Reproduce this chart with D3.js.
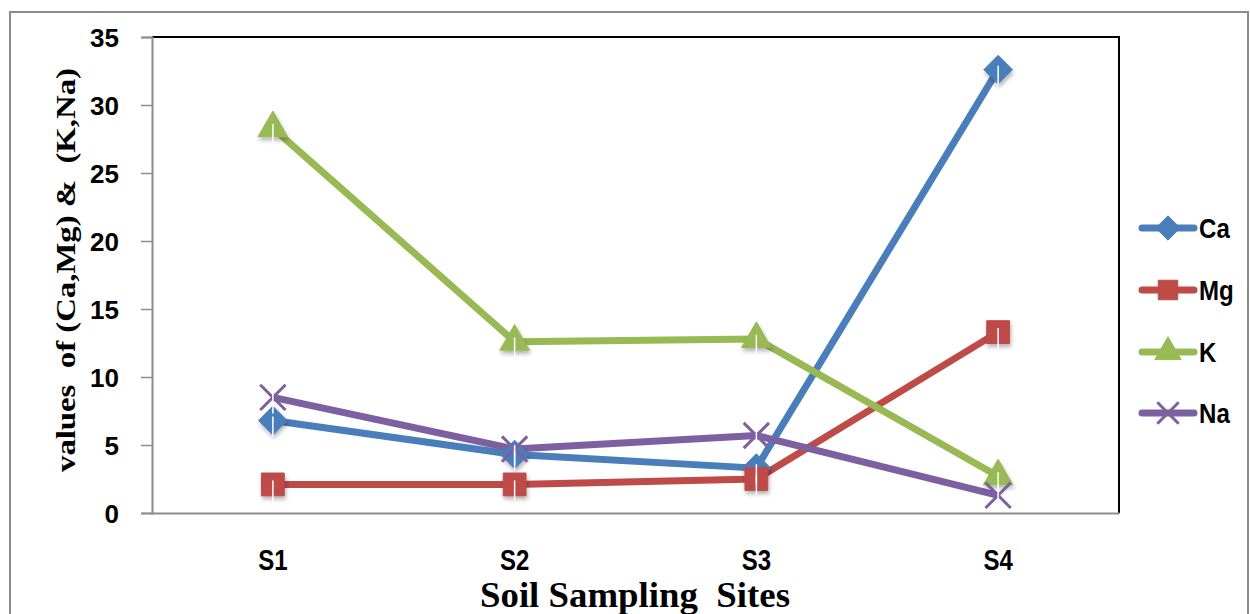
<!DOCTYPE html>
<html><head><meta charset="utf-8">
<script src="https://cdn.jsdelivr.net/npm/d3@7/dist/d3.min.js"></script>
<style>body{margin:0;background:#fff}</style>
</head><body>
<svg id="c" width="1250" height="614"></svg>
<script>
const categories = ["S1","S2","S3","S4"];
const seriesNames = ["Ca","Mg","K","Na"];
const caValues = [6.8, 4.3, 3.3, 32.6];
const mgValues = [2.1, 2.1, 2.5, 13.3];
const kValues  = [28.3, 12.6, 12.8, 2.7];
const naValues = [8.5, 4.7, 5.7, 1.3];
const yTicks = [0,5,10,15,20,25,30,35];
const colors = {Ca:"#4a7ebb", Mg:"#be4b48", K:"#98b954", Na:"#7d60a0"};
const symbols = {Ca:d3.symbolDiamond2, Mg:d3.symbolSquare, K:d3.symbolTriangle, Na:d3.symbolX};
const series = [
  {name:"Ca", values:caValues},
  {name:"Mg", values:mgValues},
  {name:"K", values:kValues},
  {name:"Na", values:naValues}
];

const svg = d3.select("#c");
const L=152, T=37, R=1119, B=513;
const sans = "'Liberation Sans',Arial,sans-serif";
const serif = "'Liberation Serif','Times New Roman',serif";
const defs = svg.append("defs");
const f = defs.append("filter").attr("id","sh").attr("x","-50%").attr("y","-50%").attr("width","200%").attr("height","200%");
f.append("feDropShadow").attr("dx",1).attr("dy",3).attr("stdDeviation",2).attr("flood-color","#000").attr("flood-opacity",0.3);

// outer border
svg.append("rect").attr("x",10).attr("y",12).attr("width",1238).attr("height",640)
  .attr("fill","none").attr("stroke","#8c8c8c").attr("stroke-width",2);

const x = d3.scaleBand().domain(categories).range([L,R]);
const y = d3.scaleLinear().domain([0,35]).range([B,T]);

// plot frame top/right black
svg.append("path").attr("d",`M${L},${T}H${R}V${B}`).attr("fill","none").attr("stroke","#000").attr("stroke-width",2);

// y axis
const ya = svg.append("g").attr("transform",`translate(${L},0)`)
  .call(d3.axisLeft(y).tickValues(yTicks).tickSize(11).tickPadding(22));
ya.select(".domain").attr("stroke","#8c8c8c").attr("stroke-width",2);
ya.selectAll(".tick line").attr("stroke","#8c8c8c").attr("stroke-width",1.5);
ya.selectAll("text").attr("fill","#000")
  .style("font-family",sans).style("font-weight","bold").style("font-size","26px").attr("dy","0.36em");

// x axis
const xa = svg.append("g").attr("transform",`translate(0,${B})`)
  .call(d3.axisBottom(x).tickSize(0).tickPadding(36));
xa.select(".domain").attr("stroke","#8c8c8c").attr("stroke-width",2);
xa.selectAll("text").attr("fill","#000").attr("transform","scale(0.8,1)")
  .style("font-family",sans).style("font-weight","bold").style("font-size","30px");

const cx = c => x(c) + x.bandwidth()/2;
const line = d3.line().x((d,i)=>cx(categories[i])).y(d=>y(d));

series.forEach(s=>{
  svg.append("path").datum(s.values).attr("d",line).attr("fill","none")
    .attr("stroke",colors[s.name]).attr("stroke-width",7).attr("stroke-linejoin","round");
});
series.forEach(s=>{
  const g = svg.append("g");
  s.values.forEach((v,i)=>{
    const isX = s.name==="Na";
    g.append("path").attr("transform",`translate(${cx(categories[i])},${y(v)})`)
      .attr("d",d3.symbol().type(symbols[s.name]).size(isX?420:(s.name==="K"?380:520))())
      .attr("fill",isX?"none":colors[s.name])
      .attr("stroke",colors[s.name]).attr("stroke-width",isX?3:1)
      .attr("filter",isX?null:"url(#sh)");
  });
});
// white vertical lines through markers
series.forEach(s=>{
  s.values.forEach((v,i)=>{
    svg.append("line").attr("x1",cx(categories[i])).attr("x2",cx(categories[i]))
      .attr("y1",y(v)-4).attr("y2",y(v)+16).attr("stroke","#fff").attr("stroke-width",1.5);
  });
});

// legend
const ly = [228,290,352,413];
series.forEach((s,i)=>{
  const g = svg.append("g").attr("transform",`translate(0,${ly[i]})`);
  g.append("line").attr("x1",1142).attr("x2",1194).attr("stroke",colors[s.name]).attr("stroke-width",7).attr("stroke-linecap","round");
  const isX = s.name==="Na";
  g.append("path").attr("transform","translate(1168,0)")
    .attr("d",d3.symbol().type(symbols[s.name]).size(isX?300:(s.name==="K"?300:380))())
    .attr("fill",isX?"none":colors[s.name]).attr("stroke",colors[s.name]).attr("stroke-width",isX?3:1);
  g.append("text").attr("transform","translate(1199,0) scale(0.86,1)").attr("dy","0.36em").text(s.name)
    .style("font-family",sans).style("font-weight","bold").style("font-size","28px");
});

// axis titles
svg.append("text").attr("transform","translate(75,270) rotate(-90)").attr("text-anchor","middle")
  .style("font-family",serif).style("font-weight","bold").style("font-size","27px")
  .attr("textLength",404).attr("lengthAdjust","spacingAndGlyphs")
  .attr("xml:space","preserve").text("values  of (Ca,Mg) &  (K,Na)");
svg.append("text").attr("x",635).attr("y",607).attr("text-anchor","middle")
  .style("font-family",serif).style("font-weight","bold").style("font-size","36px")
  .attr("textLength",310).attr("lengthAdjust","spacingAndGlyphs")
  .attr("xml:space","preserve").text("Soil Sampling  Sites");
</script>
</body></html>
